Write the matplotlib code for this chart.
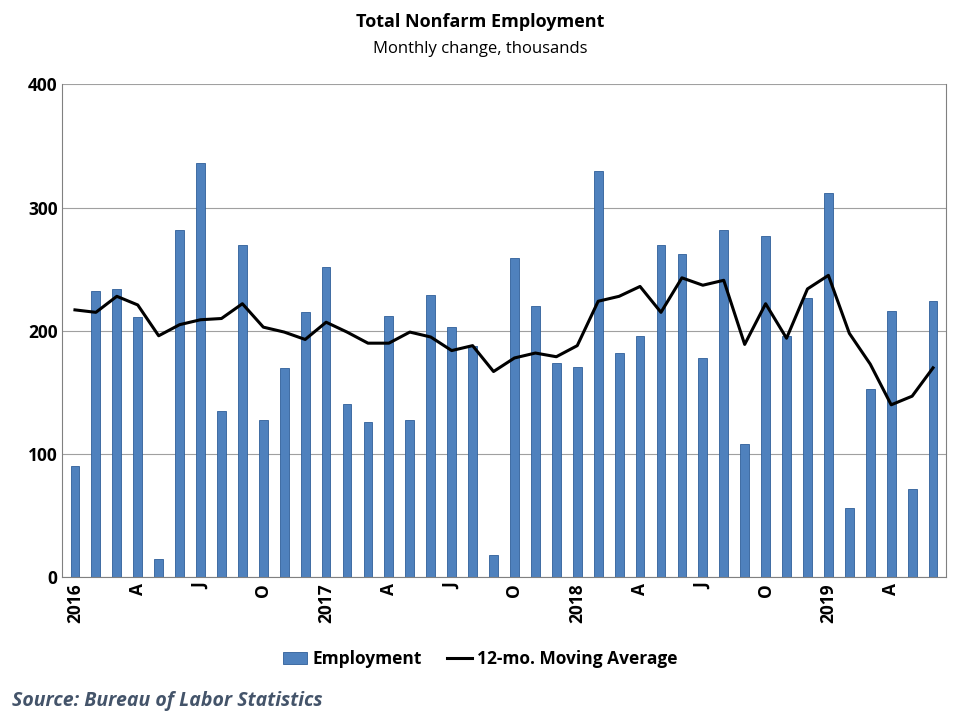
import matplotlib
matplotlib.use("Agg")
import matplotlib.pyplot as plt
import numpy as np

employment = [90, 232, 234, 211, 15, 282, 336, 135, 270, 128, 170, 215,
              252, 141, 126, 212, 128, 229, 203, 188, 18, 259, 220, 174,
              171, 330, 182, 196, 270, 262, 178, 282, 108, 277, 196, 227,
              312, 56, 153, 216, 72, 224]
moving_avg = [217, 215, 228, 221, 196, 205, 209, 210, 222, 203, 199, 193,
              207, 199, 190, 190, 199, 195, 184, 188, 167, 178, 182, 179,
              188, 224, 228, 236, 215, 243, 237, 241, 189, 222, 194, 234,
              245, 198, 173, 140, 147, 170]
tick_labels = ["2016", "A", "J", "O", "2017", "A", "J", "O",
               "2018", "A", "J", "O", "2019", "A"]

plt.rcParams['font.family'] = ['Open Sans', 'DejaVu Sans']
fig = plt.figure(figsize=(9.6, 7.2), dpi=100)
ax = fig.add_axes([0.065, 0.198, 0.92, 0.685])

x = np.arange(len(employment))
bars = ax.bar(x, employment, width=0.42, color="#4F81BD", edgecolor="#2F5F9A", linewidth=0.6,
              label="Employment", zorder=2)
line, = ax.plot(x, moving_avg, color="black", linewidth=2.2, label="12-mo. Moving Average", zorder=3)

ax.set_xlim(-0.6, len(employment) - 0.4)
ax.set_ylim(0, 400)
ax.set_yticks([0, 100, 200, 300, 400])
ax.tick_params(axis='y', labelsize=12.5, length=0)
for lab in ax.get_yticklabels():
    lab.set_fontweight('bold')
ax.set_xticks(np.arange(0, len(employment), 3))
ax.set_xticklabels(tick_labels, rotation=90, fontsize=12.5, fontweight='bold')
ax.tick_params(axis='x', length=0, pad=4)
ax.yaxis.grid(True, color="#A0A0A0", linewidth=0.8, zorder=0)
ax.set_axisbelow(True)
ax.spines["top"].set_visible(False)
for s in ax.spines.values():
    s.set_color("#808080")

fig.text(0.5, 0.963, "Total Nonfarm Employment", ha="center", fontsize=13, fontweight="bold")
fig.text(0.5, 0.926, "Monthly change, thousands", ha="center", fontsize=12)
fig.legend([bars, line], ["Employment", "12-mo. Moving Average"], loc="center",
           bbox_to_anchor=(0.5, 0.085), ncol=2, frameon=False,
           prop={'weight': 'bold', 'size': 12.5}, handlelength=1.4, handletextpad=0.3,
           columnspacing=1.5)
fig.text(0.012, 0.02, "Source: Bureau of Labor Statistics", fontsize=14, fontweight="bold",
         style="italic", color="#44546A")

fig.savefig("out.png", dpi=100)
